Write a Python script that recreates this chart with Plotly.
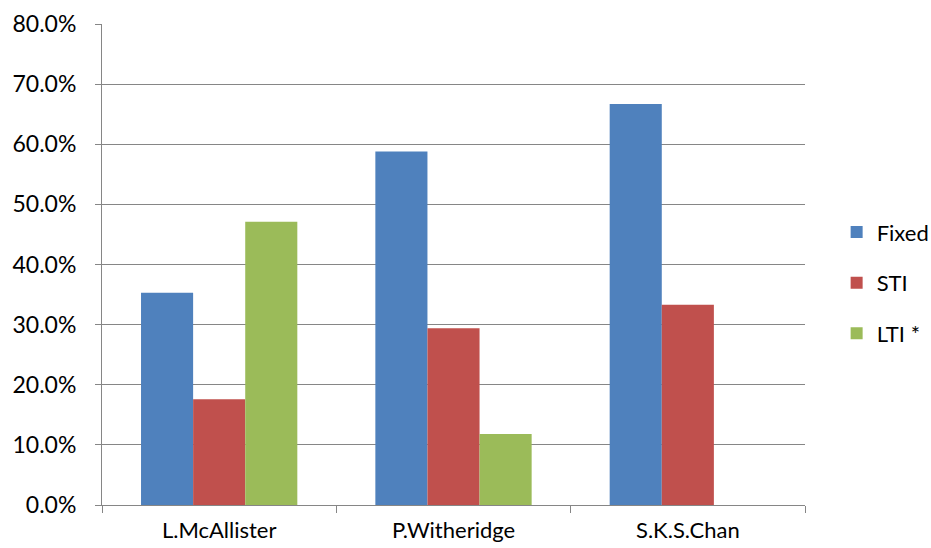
import plotly.graph_objects as go

categories = ["L.McAllister", "P.Witheridge", "S.K.S.Chan"]
fixed = [0.353, 0.588, 0.667]
sti = [0.176, 0.294, 0.333]
lti = [0.471, 0.118, 0.0]

series = [("Fixed", fixed, "#4F81BD"), ("STI", sti, "#C0504D"), ("LTI *", lti, "#9BBB59")]

fig = go.Figure()
for i, (name, vals, color) in enumerate(series):
    fig.add_trace(go.Bar(x=categories, y=vals, name=name, marker_color=color,
                         marker_line_width=0, legendgroup=str(i)))

font = "Lato, 'Noto Sans', sans-serif"
fig.update_layout(
    width=931, height=548,
    margin=dict(l=102, r=126, t=24, b=43, autoexpand=False),
    plot_bgcolor="white", paper_bgcolor="white",
    barmode="group", bargap=0.333, bargroupgap=0,
    font=dict(family=font, size=23, color="#000000"),
    showlegend=True,
    legend=dict(x=1.045, y=0.462, xanchor="left", yanchor="middle",
                font=dict(size=22), tracegroupgap=19, itemwidth=30,
                bgcolor="rgba(0,0,0,0)"),
)
fig.update_yaxes(range=[0, 0.8], dtick=0.1, tickformat=".1%",
                 showgrid=True, gridcolor="#868686", gridwidth=1,
                 showline=True, linecolor="#868686", linewidth=1,
                 ticks="outside", ticklen=6, tickcolor="#868686",
                 ticklabelstandoff=14, zeroline=False, automargin=False)
fig.update_xaxes(showline=True, linecolor="#868686", linewidth=1,
                 ticks="outside", ticklen=7, tickcolor="#868686",
                 tickson="boundaries", ticklabelstandoff=6, automargin=False,
                 tickfont=dict(size=22))
fig.write_html("out.html")
